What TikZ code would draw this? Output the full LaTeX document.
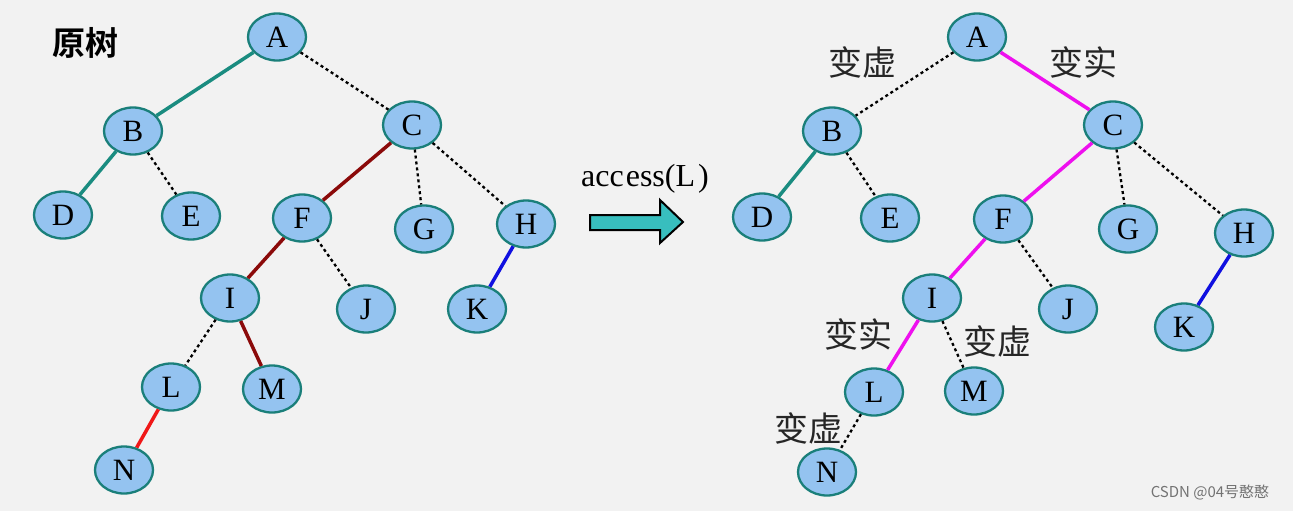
\documentclass[tikz,border=0pt]{standalone}
\usepackage{fontspec}
\setmainfont{Liberation Serif}
\newfontfamily\cjk{Noto Sans CJK SC}
\newfontfamily\cjkbold{Noto Sans CJK SC Bold}
\usetikzlibrary{shapes.geometric}
\definecolor{bg}{HTML}{F2F2F2}
\definecolor{nodefill}{HTML}{94C3F0}
\definecolor{nodeedge}{HTML}{1A7F7A}
\definecolor{tealedge}{HTML}{1A8C80}
\definecolor{maroonedge}{HTML}{8B0A0A}
\definecolor{rededge}{HTML}{F01818}
\definecolor{blueedge}{HTML}{1010E0}
\definecolor{magentaedge}{HTML}{EE10EE}
\definecolor{arrowfill}{HTML}{38BEBE}
\tikzset{
  treenode/.style={ellipse, draw=nodeedge, line width=2.3pt, fill=nodefill,
    minimum width=58pt, minimum height=47pt, inner sep=0pt,
    font=\fontsize{31}{31}\selectfont},
  solidedge/.style={line width=3.5pt},
  virtedge/.style={black, line width=2.3pt, dash pattern=on 3pt off 3pt},
  tag/.style={font=\cjk\fontsize{34}{34}\selectfont, text=black!85, inner sep=0pt}
}
\begin{document}
\begin{tikzpicture}[x=1pt,y=-1pt]
\useasboundingbox (0,0) rectangle (1293,511);
\fill[bg] (0,0) rectangle (1293,511);

% ---------- original tree ----------
\node[font=\cjkbold\fontsize{33}{33}\selectfont, inner sep=0pt] (title) at (85,43) {原树};

\node[treenode] (A) at (277,37) {A};
\node[treenode] (B) at (133,131) {B};
\node[treenode] (C) at (412,125) {C};
\node[treenode] (D) at (63,215) {D};
\node[treenode] (E) at (191,216) {E};
\node[treenode] (F) at (302,218) {F};
\node[treenode] (G) at (424,229) {G};
\node[treenode] (H) at (526,224) {H};
\node[treenode] (I) at (230,298) {I};
\node[treenode] (J) at (366,309) {J};
\node[treenode] (K) at (477,309) {K};
\node[treenode] (L) at (171,387) {L};
\node[treenode] (M) at (272,389) {M};
\node[treenode] (N) at (124,470) {N};

% ---------- tree after access(L) ----------
\node[treenode] (A2) at (977,37) {A};
\node[treenode] (B2) at (832,131) {B};
\node[treenode] (C2) at (1113,125) {C};
\node[treenode] (D2) at (762,217) {D};
\node[treenode] (E2) at (890,218) {E};
\node[treenode] (F2) at (1003,219) {F};
\node[treenode] (G2) at (1128,229) {G};
\node[treenode] (H2) at (1244,233) {H};
\node[treenode] (I2) at (932,298) {I};
\node[treenode] (J2) at (1068,309) {J};
\node[treenode] (K2) at (1184,327) {K};
\node[treenode] (L2) at (874,392) {L};
\node[treenode] (M2) at (974,391) {M};
\node[treenode] (N2) at (827,472) {N};

% edges of the original tree
\draw[solidedge, tealedge] (A) -- (B);
\draw[virtedge] (A) -- (C);
\draw[solidedge, tealedge] (B) -- (D);
\draw[virtedge] (B) -- (E);
\draw[solidedge, maroonedge] (C) -- (F);
\draw[virtedge] (C) -- (G);
\draw[virtedge] (C) -- (H);
\draw[solidedge, maroonedge] (F) -- (I);
\draw[virtedge] (F) -- (J);
\draw[virtedge] (I) -- (L);
\draw[solidedge, maroonedge] (I) -- (M);
\draw[solidedge, rededge] (L) -- (N);
\draw[solidedge, blueedge] (H) -- (K);

% edges after access(L)
\draw[virtedge] (A2) -- (B2);
\draw[solidedge, magentaedge] (A2) -- (C2);
\draw[solidedge, tealedge] (B2) -- (D2);
\draw[virtedge] (B2) -- (E2);
\draw[solidedge, magentaedge] (C2) -- (F2);
\draw[virtedge] (C2) -- (G2);
\draw[virtedge] (C2) -- (H2);
\draw[solidedge, magentaedge] (F2) -- (I2);
\draw[virtedge] (F2) -- (J2);
\draw[solidedge, magentaedge] (I2) -- (L2);
\draw[virtedge] (I2) -- (M2);
\draw[virtedge] (L2) -- (N2);
\draw[solidedge, blueedge] (H2) -- (K2);

% change labels
\node[tag] (t1) at (862,62) {变虚};
\node[tag] (t2) at (1083,62) {变实};
\node[tag] (t3) at (858,334) {变实};
\node[tag] (t4) at (997,341) {变虚};
\node[tag] (t5) at (808,428) {变虚};

% access arrow
\node[font=\fontsize{32}{32}\selectfont, inner sep=0pt] (acc) at (645,179) {acc\hspace{2pt}ess(L\hspace{3pt})};
\draw[line width=2pt, fill=arrowfill, line join=miter]
  (590,215) -- (660,215) -- (660,200) -- (683,222) -- (660,243) -- (660,230) -- (590,230) -- cycle;

% watermark
\node[font=\cjk\fontsize{15}{15}\selectfont, text=black!55, inner sep=0pt] (wm) at (1210,493) {CSDN @04号憨憨};
\end{tikzpicture}
\end{document}
